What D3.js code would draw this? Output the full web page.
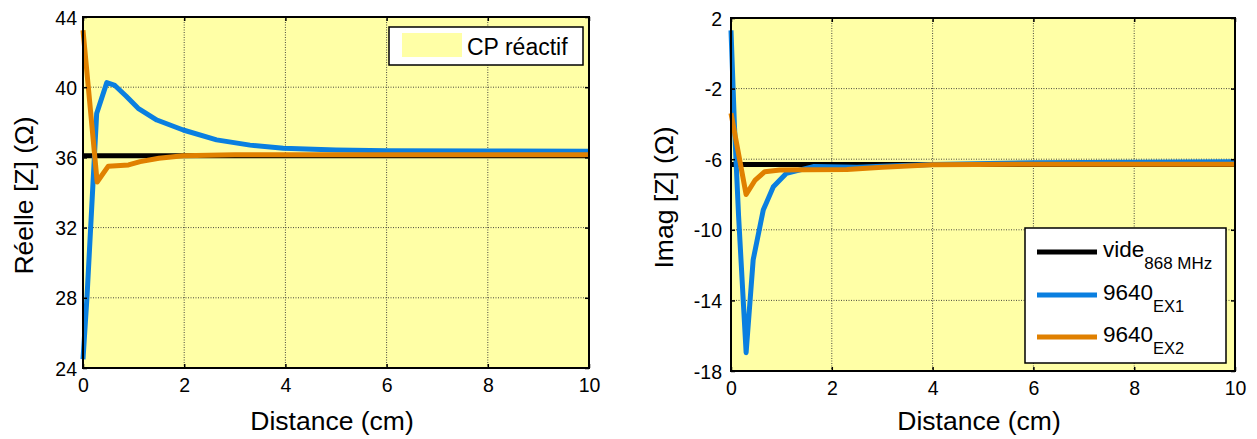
<!DOCTYPE html>
<html><head><meta charset="utf-8">
<script src="https://cdn.jsdelivr.net/npm/d3@7"></script>
<style>body{margin:0;background:#fff}svg{display:block}text{font-family:"Liberation Sans",Arial,sans-serif;fill:#000}</style>
</head><body>
<svg id="c" width="1257" height="439"></svg>
<script>
// ---- data ----
const xTicks = [0, 2, 4, 6, 8, 10];
const reTicks = [24, 28, 32, 36, 40, 44];
const imTicks = [-18, -14, -10, -6, -2, 2];

const reVideX = [0, 10];
const reVide = [36.1, 36.1];
const reEx1X = [0, 0.08, 0.27, 0.47, 0.63, 0.85, 1.09, 1.46, 1.98, 2.64, 3.3, 3.96, 5, 6, 8, 10];
const reEx1 = [24.5, 28.1, 38.5, 40.26, 40.1, 39.5, 38.8, 38.13, 37.56, 37.0, 36.7, 36.52, 36.42, 36.38, 36.36, 36.35];
const reEx2X = [0, 0.28, 0.5, 0.9, 1.13, 1.5, 1.98, 3, 4, 6, 8, 10];
const reEx2 = [43.25, 34.6, 35.5, 35.57, 35.76, 35.95, 36.1, 36.15, 36.15, 36.15, 36.15, 36.15];

const imVideX = [0, 10];
const imVide = [-6.3, -6.3];
const imEx1X = [0, 0.07, 0.15, 0.3, 0.44, 0.64, 0.84, 1.1, 1.63, 2.5, 3, 4, 6, 8, 10];
const imEx1 = [1.3, -4.2, -9.2, -16.96, -11.7, -8.88, -7.56, -6.8, -6.42, -6.45, -6.4, -6.3, -6.2, -6.17, -6.15];
const imEx2X = [0, 0.3, 0.48, 0.67, 0.97, 1.5, 2.3, 3, 4, 6, 8, 10];
const imEx2 = [-3.4, -8.0, -7.18, -6.71, -6.61, -6.6, -6.58, -6.45, -6.32, -6.28, -6.28, -6.28];

const legendNames = ["vide", "9640", "9640"];
const legendSubs = ["868 MHz", "EX1", "EX2"];
const colors = {vide: "#000000", ex1: "#0a7fe0", ex2: "#e08000"};
const bgYellow = "#ffffa6";

// ---- drawing ----
const svg = d3.select("#c");

function panel(cfg) {
  const x = d3.scaleLinear().domain([0, 10]).range([cfg.l, cfg.r]);
  const y = d3.scaleLinear().domain(cfg.yDomain).range([cfg.b, cfg.t]);
  const g = svg.append("g");
  g.append("rect").attr("x", cfg.l).attr("y", cfg.t).attr("width", cfg.r - cfg.l).attr("height", cfg.b - cfg.t).attr("fill", bgYellow);
  // grid
  g.selectAll(".gx").data(xTicks.slice(1, -1)).join("line")
    .attr("x1", d => x(d)).attr("x2", d => x(d)).attr("y1", cfg.t).attr("y2", cfg.b)
    .attr("stroke", "#333").attr("stroke-width", 0.9).attr("stroke-dasharray", "1,1.5");
  g.selectAll(".gy").data(cfg.yTicks.slice(1, -1)).join("line")
    .attr("y1", d => y(d)).attr("y2", d => y(d)).attr("x1", cfg.l).attr("x2", cfg.r)
    .attr("stroke", "#333").attr("stroke-width", 0.9).attr("stroke-dasharray", "1,1.5");
  // lines
  const line = d3.line().x(d => x(d[0])).y(d => y(d[1]));
  const series = [
    [cfg.videX, cfg.vide, colors.vide],
    [cfg.ex1X, cfg.ex1, colors.ex1],
    [cfg.ex2X, cfg.ex2, colors.ex2]
  ];
  series.forEach(s => {
    g.append("path").datum(s[0].map((v, i) => [v, s[1][i]]))
      .attr("d", line).attr("fill", "none").attr("stroke", s[2])
      .attr("stroke-width", 5).attr("stroke-linejoin", "round");
  });
  const fmt = d => String(d);
  // axes (ticks inward, mirrored)
  const ax = g.append("g").attr("transform", `translate(0,${cfg.b})`)
    .call(d3.axisBottom(x).tickValues(xTicks).tickSize(-4).tickPadding(10).tickFormat(fmt));
  const axT = g.append("g").attr("transform", `translate(0,${cfg.t})`)
    .call(d3.axisTop(x).tickValues(xTicks).tickSize(-4).tickFormat(""));
  const ay = g.append("g").attr("transform", `translate(${cfg.l},0)`)
    .call(d3.axisLeft(y).tickValues(cfg.yTicks).tickSize(-4).tickPadding(cfg.yPad).tickFormat(fmt));
  const ayR = g.append("g").attr("transform", `translate(${cfg.r},0)`)
    .call(d3.axisRight(y).tickValues(cfg.yTicks).tickSize(-4).tickFormat(""));
  [ax, axT, ay, ayR].forEach(a => {
    a.select(".domain").remove();
    a.selectAll(".tick line").attr("stroke", "#000").attr("stroke-width", 1.5);
    a.selectAll("text").style("font-size", "19.5px").attr("fill", "#000");
  });
  ax.selectAll("text").attr("dy", "0.71em");
  ay.selectAll("text").attr("dy", "0.36em");
  // box
  g.append("rect").attr("x", cfg.l).attr("y", cfg.t).attr("width", cfg.r - cfg.l).attr("height", cfg.b - cfg.t)
    .attr("fill", "none").attr("stroke", "#000").attr("stroke-width", 2);
  // labels
  g.append("text").attr("x", (cfg.l + cfg.r) / 2 - 4).attr("y", 430).attr("text-anchor", "middle")
    .style("font-size", "26.5px").text("Distance (cm)");
  g.append("text").attr("transform", `translate(${cfg.yLabX},${(cfg.t + cfg.b) / 2 + 3}) rotate(-90)`)
    .attr("text-anchor", "middle").style("font-size", "26.5px").text(cfg.yLabel);
  return {x, y, g};
}

panel({l: 83, r: 589, t: 17, b: 368, yDomain: [24, 44], yTicks: reTicks, yPad: 6, yLabX: 33,
  yLabel: "Réelle [Z] (Ω)", videX: reVideX, vide: reVide, ex1X: reEx1X, ex1: reEx1, ex2X: reEx2X, ex2: reEx2});
panel({l: 731, r: 1235, t: 18, b: 371, yDomain: [-18, 2], yTicks: imTicks, yPad: 9, yLabX: 673,
  yLabel: "Imag [Z] (Ω)", videX: imVideX, vide: imVide, ex1X: imEx1X, ex1: imEx1, ex2X: imEx2X, ex2: imEx2});

// left legend
svg.append("rect").attr("x", 389).attr("y", 27).attr("width", 194).attr("height", 38)
  .attr("fill", "#fff").attr("stroke", "#000").attr("stroke-width", 1.5);
svg.append("rect").attr("x", 402).attr("y", 33).attr("width", 60).attr("height", 24).attr("fill", bgYellow);
svg.append("text").attr("x", 467).attr("y", 55).style("font-size", "23px").text("CP réactif");

// right legend
svg.append("rect").attr("x", 1025).attr("y", 228).attr("width", 201).attr("height", 135)
  .attr("fill", "#fff").attr("stroke", "#000").attr("stroke-width", 1.5);
const legCols = [colors.vide, colors.ex1, colors.ex2];
const legY = [252, 295, 337];
legendNames.forEach((n, i) => {
  svg.append("line").attr("x1", 1037).attr("x2", 1097).attr("y1", legY[i]).attr("y2", legY[i])
    .attr("stroke", legCols[i]).attr("stroke-width", 5);
  const t = svg.append("text").attr("x", 1103).attr("y", legY[i] + 5).style("font-size", "22.5px");
  t.append("tspan").text(n);
  t.append("tspan").attr("dy", 12).style("font-size", i === 0 ? "17px" : "16.5px").text(legendSubs[i]);
});
</script>
</body></html>
